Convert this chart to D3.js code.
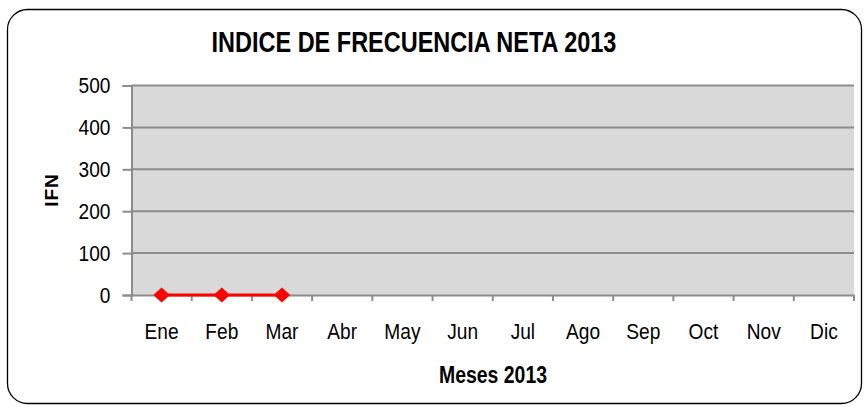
<!DOCTYPE html>
<html>
<head>
<meta charset="utf-8">
<script src="https://cdn.jsdelivr.net/npm/d3@7"></script>
<style>
  body { margin: 0; background: #fff; }
  text { font-family: "Liberation Sans Narrow", "Arial Narrow", "Liberation Sans", Arial, sans-serif; fill: #000; }
</style>
</head>
<body>
<svg width="865" height="407"></svg>
<script>
// data
var meses = ["Ene", "Feb", "Mar", "Abr", "May", "Jun", "Jul", "Ago", "Sep", "Oct", "Nov", "Dic"];
var ifnMeses = ["Ene", "Feb", "Mar"];
var ifnValores = [0, 0, 0];
var yTicks = [0, 100, 200, 300, 400, 500];

var svg = d3.select("svg"),
  width = +svg.attr("width"),
  height = +svg.attr("height");

var plot = { left: 131.5, top: 85.5, right: 854, bottom: 295 };
var narrow = 0.87; // no narrow font installed, squeeze the regular one

// frame
svg.append("rect")
  .attr("x", 7.5).attr("y", 9.5)
  .attr("width", 854).attr("height", 394)
  .attr("rx", 20).attr("ry", 20)
  .attr("fill", "#fff").attr("stroke", "#000").attr("stroke-width", 1.3);

var x = d3.scaleBand()
  .domain(meses)
  .range([plot.left, plot.right]);

var y = d3.scaleLinear()
  .domain([0, 500])
  .range([plot.bottom, plot.top]);

// plot area
svg.append("rect")
  .attr("x", plot.left).attr("y", plot.top)
  .attr("width", plot.right - plot.left).attr("height", plot.bottom - plot.top)
  .attr("fill", "#d9d9d9");

// gridlines
svg.append("g")
  .selectAll("line")
  .data(yTicks.filter(function(d) { return d > 0; }))
  .enter()
  .append("line")
    .attr("x1", plot.left).attr("x2", plot.right)
    .attr("y1", function(d) { return y(d); })
    .attr("y2", function(d) { return y(d); })
    .attr("stroke", "#8c8c8c").attr("stroke-width", 2);

// y axis
var yAxis = svg.append("g")
  .attr("transform", "translate(" + plot.left + ",0)")
  .call(d3.axisLeft(y).tickValues(yTicks).tickSize(9));
yAxis.select(".domain").attr("stroke", "#8c8c8c").attr("stroke-width", 2);
yAxis.selectAll(".tick line").attr("stroke", "#8c8c8c").attr("stroke-width", 2);
yAxis.selectAll("text")
  .attr("x", -21 / narrow)
  .attr("transform", "scale(" + narrow + ",1)")
  .style("font-size", "22px").attr("fill", "#000");

// x axis
var xAxis = svg.append("g")
  .attr("transform", "translate(0," + plot.bottom + ")")
  .call(d3.axisBottom(x).tickSize(0).tickPadding(28));
xAxis.select(".domain").attr("stroke", "#8c8c8c").attr("stroke-width", 2);
xAxis.selectAll("text")
  .attr("transform", "scale(" + narrow + ",1)")
  .style("font-size", "22px").attr("fill", "#000");

// category separators below axis
var cortes = meses.map(function(d) { return x(d); }).concat([plot.right]);
svg.append("g")
  .selectAll("line")
  .data(cortes)
  .enter()
  .append("line")
    .attr("x1", function(d) { return d; })
    .attr("x2", function(d) { return d; })
    .attr("y1", plot.bottom)
    .attr("y2", plot.bottom + 6)
    .attr("stroke", "#8c8c8c").attr("stroke-width", 2);

// series line
var line = d3.line()
  .x(function(d, i) { return x(ifnMeses[i]) + x.bandwidth() / 2; })
  .y(function(d) { return y(d); });

svg.append("path")
  .datum(ifnValores)
  .attr("d", line)
  .attr("fill", "none")
  .attr("stroke", "#ff0000")
  .attr("stroke-width", 3);

// diamond marker, a bit wider than tall like the excel one
var rombo = {
  draw: function(ctx, size) {
    var w = Math.sqrt(size) / 2, h = w * 0.92;
    ctx.moveTo(0, -h);
    ctx.lineTo(w, 0);
    ctx.lineTo(0, h);
    ctx.lineTo(-w, 0);
    ctx.closePath();
  }
};

svg.append("g")
  .selectAll("path")
  .data(ifnValores)
  .enter()
  .append("path")
    .attr("d", d3.symbol().type(rombo).size(270))
    .attr("transform", function(d, i) {
      return "translate(" + (x(ifnMeses[i]) + x.bandwidth() / 2) + "," + y(d) + ")";
    })
    .attr("fill", "#ff0000");

// titles
svg.append("text")
  .attr("transform", "translate(414,52) scale(" + 0.81 + ",1)")
  .attr("text-anchor", "middle")
  .style("font-size", "29px").style("font-weight", "bold")
  .text("INDICE DE FRECUENCIA NETA 2013");

svg.append("text")
  .attr("transform", "translate(493,383) scale(" + 0.81 + ",1)")
  .attr("text-anchor", "middle")
  .style("font-size", "24px").style("font-weight", "bold")
  .text("Meses 2013");

svg.append("text")
  .attr("transform", "translate(58,190) rotate(-90)")
  .attr("text-anchor", "middle")
  .style("font-size", "19px").style("font-weight", "bold")
  .style("letter-spacing", "1px")
  .text("IFN");
</script>
</body>
</html>
